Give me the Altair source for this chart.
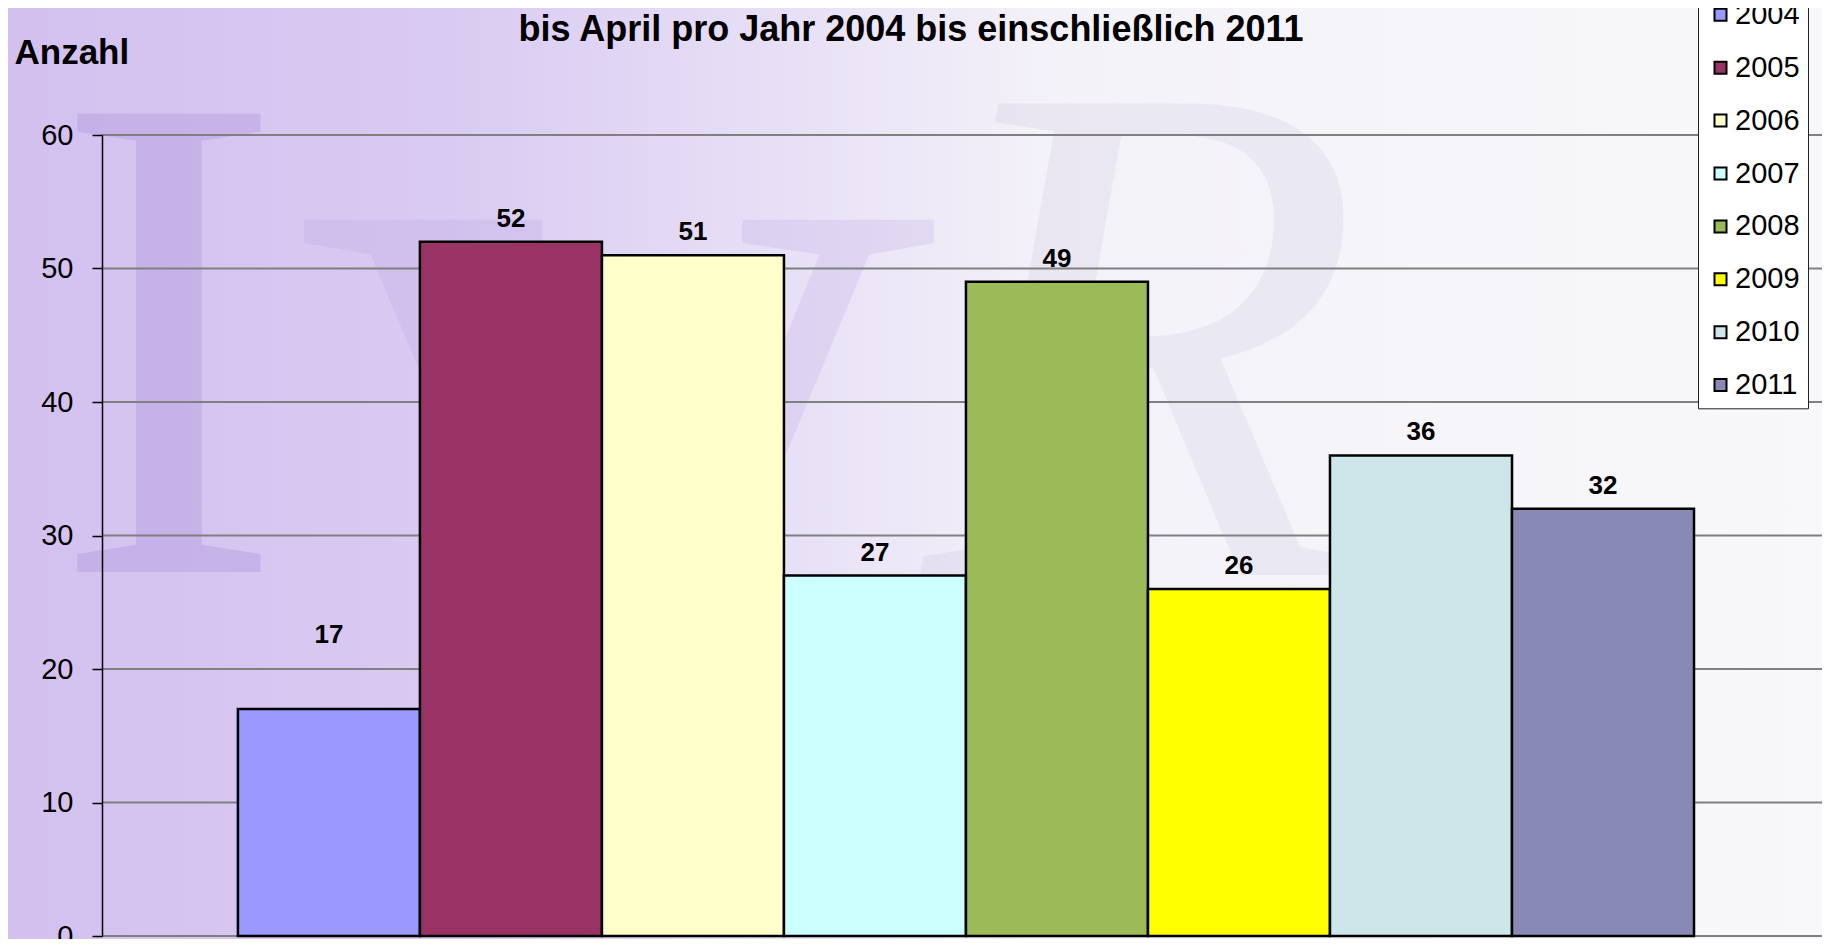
import altair as alt
import pandas as pd

# ---- data ----
years = ["2004", "2005", "2006", "2007", "2008", "2009", "2010", "2011"]
counts = [17, 52, 51, 27, 49, 26, 36, 32]
bar_colors = ["#9999FF", "#993366", "#FFFFCC", "#CCFFFF", "#9BBB59", "#FFFF00", "#CDE6E9", "#8989B6"]
y_ticks = [0, 10, 20, 30, 40, 50, 60]
title_text = "bis April pro Jahr 2004 bis einschließlich 2011"
y_title = "Anzahl"

df = pd.DataFrame({"Jahr": years, "Anzahl": counts})
grid_df = pd.DataFrame({"Anzahl": y_ticks})

W, H = 1720, 801
PAD_L, PAD_T, PAD_R, PAD_B = 94, 127, 0, 3
FONT = "Liberation Sans"
SERIF = "Liberation Serif"

x_scale = alt.Scale(domain=years, paddingInner=0, paddingOuter=0.725, align=0.515)
y_scale = alt.Scale(domain=[0, 60], nice=False, zero=True)

y_axis = alt.Axis(
    values=y_ticks, title=y_title, titleAngle=0, titleAlign="left",
    titleBaseline="alphabetic", titleX=-88, titleY=-72, titleFontSize=35,
    titleFontWeight="bold", titleColor="black", titleFont=FONT,
    labelFontSize=29, labelColor="black", labelFont=FONT, labelPadding=19,
    tickSize=10, tickColor="black", tickWidth=1.5,
    domainColor="black", domainWidth=1.5, grid=False, zindex=1,
)

# background gradient (decoration)
bg = alt.Chart(alt.Data(values=[{}])).mark_rect(
    fill=alt.Gradient(
        gradient="linear",
        stops=[
            alt.GradientStop(color="#D3C0EF", offset=0),
            alt.GradientStop(color="#DACBF2", offset=0.25),
            alt.GradientStop(color="#E7DFF6", offset=0.42),
            alt.GradientStop(color="#F4F2F9", offset=0.58),
            alt.GradientStop(color="#F8F8FA", offset=1),
        ],
        x1=0, x2=1, y1=0, y2=0,
    ),
).encode(
    x=alt.value(-PAD_L), x2=alt.value(W + PAD_R),
    y=alt.value(-PAD_T), y2=alt.value(H + PAD_B),
)

# faint watermark letters (decoration)
wm_i = alt.Chart(alt.Data(values=[{}])).mark_text(
    text="I", font=SERIF, fontSize=700, align="left", baseline="alphabetic",
    color="#A58AD9", opacity=0.3,
).encode(x=alt.value(-50), y=alt.value(437))
wm_v = alt.Chart(alt.Data(values=[{}])).mark_text(
    text="V", font=SERIF, fontSize=900, align="left", baseline="alphabetic",
    color="#B29BDF", opacity=0.2,
).encode(x=alt.value(192), y=alt.value(674))
wm_r = alt.Chart(alt.Data(values=[{}])).mark_text(
    text="R", font=SERIF, fontStyle="italic", fontSize=720, align="left", baseline="alphabetic",
    color="#B8B0D0", opacity=0.16,
).encode(x=alt.value(822), y=alt.value(440))

# grid lines through the y scale
grid = alt.Chart(grid_df).mark_rule(color="#808080", strokeWidth=2).encode(
    y=alt.Y("Anzahl:Q", scale=y_scale, axis=y_axis)
)

bars = alt.Chart(df).mark_bar(stroke="black", strokeWidth=2.5).encode(
    x=alt.X("Jahr:N", sort=years, scale=x_scale, axis=None),
    y=alt.Y("Anzahl:Q", scale=y_scale, axis=y_axis),
    fill=alt.Fill(
        "Jahr:N", sort=years,
        scale=alt.Scale(domain=years, range=bar_colors),
        legend=alt.Legend(
            orient="none", legendX=1596, legendY=-142.7, title=None,
            labelFontSize=29, labelFont=FONT, labelColor="black",
            labelOffset=0,
            symbolType="square", symbolSize=144, symbolStrokeColor="black",
            symbolStrokeWidth=2, symbolOpacity=1,
            rowPadding=22.9, padding=8,
            fillColor="white", strokeColor="#222222",
        ),
    ),
)

label_common = dict(baseline="alphabetic", fontSize=26, fontWeight="bold", font=FONT, color="black")

labels = alt.Chart(df).mark_text(dy=-15, **label_common).encode(
    x=alt.X("Jahr:N", sort=years, scale=x_scale, axis=None),
    y=alt.Y("Anzahl:Q", scale=y_scale, axis=y_axis),
    text=alt.Text("Anzahl:Q"),
).transform_filter(alt.datum.Jahr != "2004")

# the 2004 label sits higher above its bar in the reference
label_2004 = alt.Chart(df).mark_text(dy=-66, **label_common).encode(
    x=alt.X("Jahr:N", sort=years, scale=x_scale, axis=None),
    y=alt.Y("Anzahl:Q", scale=y_scale, axis=y_axis),
    text=alt.Text("Anzahl:Q"),
).transform_filter(alt.datum.Jahr == "2004")

title = alt.Chart(alt.Data(values=[{"t": title_text}])).mark_text(
    font=FONT, fontSize=36, fontWeight="bold", color="black",
    align="center", baseline="alphabetic",
).encode(text="t:N", x=alt.value(809), y=alt.value(-94))

chart = alt.layer(bg, wm_i, wm_v, wm_r, grid, bars, labels, label_2004, title).properties(
    width=W, height=H,
    padding={"left": PAD_L, "top": PAD_T, "right": PAD_R, "bottom": PAD_B},
    autosize=alt.AutoSizeParams(type="none"),
    background="white",
).configure_view(stroke=None)

chart.save("out.html", embed_options={"renderer": "svg", "actions": False})
